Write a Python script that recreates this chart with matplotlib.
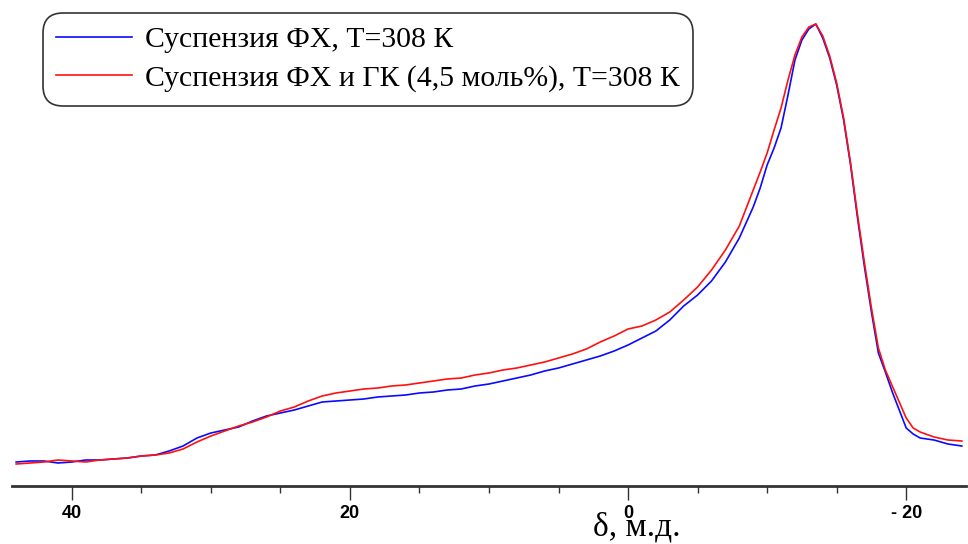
import matplotlib
matplotlib.use("Agg")
import matplotlib.pyplot as plt
import numpy as np

# chemical shift, ppm: 1 ppm steps on the wings, 0.5 ppm across the main peak
shift = ([44, 43, 42, 41, 40, 39, 38, 37, 36, 35, 34, 33, 32, 31, 30, 29, 28,
          27, 26, 25, 24, 23, 22, 21, 20, 19, 18, 17, 16, 15, 14, 13, 12, 11,
          10, 9, 8, 7, 6, 5, 4, 3, 2, 1, 0, -1, -2, -3, -4, -5, -6, -7, -8]
         + [-9, -9.5, -10, -10.5, -11, -11.5, -12, -12.5, -13, -13.5, -14,
            -14.5, -15, -15.5, -16, -16.5, -17, -17.5, -18, -18.5, -19, -19.5,
            -20, -20.5, -21]
         + [-22, -23, -24])

# intensities (arbitrary units)
fx = ([24, 25, 25, 23, 24, 26, 26, 27, 28, 30, 31, 35, 40, 48, 53, 56, 59,
       65, 70, 73, 76, 80, 84, 85, 86, 87, 89, 90, 91, 93, 94, 96, 97, 100,
       102, 105, 108, 111, 115, 118, 122, 126, 130, 135, 141, 148, 155, 166,
       180, 191, 205, 224, 248]
      + [279, 298, 321, 338, 358, 391, 426, 446, 457, 462, 448,
         428, 401, 366, 321, 268, 219, 174, 133, 114, 94, 76,
         58, 52, 48]
      + [46, 42, 40])
fx_gk = ([22, 23, 24, 26, 25, 24, 26, 27, 28, 30, 31, 33, 37, 44, 50, 55, 60,
          64, 69, 75, 79, 85, 90, 93, 95, 97, 98, 100, 101, 103, 105, 107, 108,
          111, 113, 116, 118, 121, 124, 128, 132, 137, 144, 150, 157, 160, 166,
          174, 186, 199, 216, 236, 260]
         + [296, 314, 333, 356, 378, 406, 431, 449, 459, 462, 450,
            430, 403, 368, 323, 271, 223, 178, 138, 116, 100, 84,
            68, 58, 54]
         + [49, 46, 45])

labels = ["Суспензия ФХ, Т=308 К", "Суспензия ФХ и ГК (4,5 моль%), Т=308 К"]
colors = ["#0a0aff", "#ff1010"]
tick_pos = [40, 20, 0, -20]
tick_txt = ["40", "20", "0", "- 20"]

fig = plt.figure(figsize=(9.68, 5.44), dpi=100)
ax = fig.add_axes([12/968, 58/544, 954/968, 486/544])

ax.plot(shift, fx, color=colors[0], lw=1.2, label=labels[0])
ax.plot(shift, fx_gk, color=colors[1], lw=1.2, label=labels[1])

ax.set_xlim(44.3, -24.3)
ax.set_ylim(0, 486)

for s in ["top", "right", "left"]:
    ax.spines[s].set_visible(False)
ax.spines["bottom"].set_linewidth(2)
ax.spines["bottom"].set_color("#333333")
ax.set_yticks([])

ax.set_xticks(tick_pos)
ax.set_xticklabels(tick_txt, fontweight="bold", family="Liberation Sans",
                   fontsize=13)
ax.set_xticks([35, 30, 25, 15, 10, 5, -5, -10, -15], minor=True)
ax.tick_params(axis="x", which="major", length=10, width=1, color="#333333",
               pad=4)
ax.tick_params(axis="x", which="minor", length=5, width=1, color="#333333")

fig.text(637/968, 8/544, "δ, м.д.", ha="center", va="baseline",
         fontsize=24, family="Liberation Serif")

leg = ax.legend(loc="upper left", bbox_to_anchor=(43/968, 1 - 13/544),
                bbox_transform=fig.transFigure, borderaxespad=0,
                prop={"family": "Liberation Serif", "size": 21.4},
                handlelength=2.55, handletextpad=0.43, labelspacing=0.4,
                borderpad=0.45, fancybox=True, framealpha=1)
frame = leg.get_frame()
frame.set_edgecolor("#333333")
frame.set_linewidth(1.2)
frame.set_boxstyle("round", pad=0, rounding_size=0.67)

fig.savefig("out.png", dpi=100)
